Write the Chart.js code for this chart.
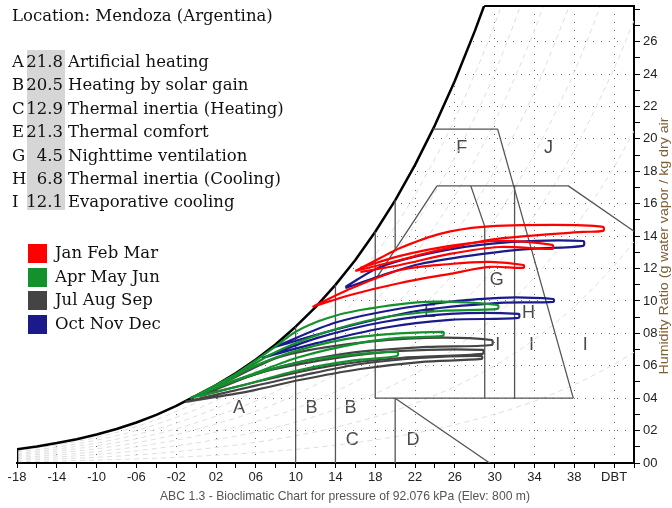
<!DOCTYPE html>
<html>
<head>
<meta charset="utf-8">
<script src="https://cdn.jsdelivr.net/npm/chart.js@4.4.0/dist/chart.umd.min.js"></script>
<style>
html, body { margin: 0; padding: 0; background: #fff; }
#wrap { position: relative; width: 672px; height: 508px; overflow: hidden; }
#chart { position: absolute; left: 0; top: 0; }
.txt { position: absolute; font-family: 'DejaVu Serif', serif; font-size: 16.5px; color: #111; white-space: nowrap; line-height: 20px; }
.pct { text-align: right; width: 37px; }
#shade { position: absolute; left: 27px; top: 50px; width: 38px; height: 160px; background: #d6d6d6; }
.sq { position: absolute; left: 28px; width: 19px; height: 19px; }
</style>
</head>
<body>
<div id="wrap">
  <canvas id="chart" width="672" height="508"></canvas>
  <div id="shade"></div>
  <div class="txt" style="left:12px; top:6px;">Location: Mendoza (Argentina)</div>
  <div id="panel"></div>
</div>
<script>
// Strategy summary (top left)
const strategyCodes = ['A', 'B', 'C', 'E', 'G', 'H', 'I'];
const strategyPct = ['21.8', '20.5', '12.9', '21.3', '4.5', '6.8', '12.1'];
const strategyNames = ['Artificial heating', 'Heating by solar gain', 'Thermal inertia (Heating)',
    'Thermal comfort', 'Nighttime ventilation', 'Thermal inertia (Cooling)', 'Evaporative cooling'];

// Seasons legend
const seasonNames = ['Jan Feb Mar', 'Apr May Jun', 'Jul Aug Sep', 'Oct Nov Dec'];
const seasonColors = ['#ff0000', '#14912c', '#444444', '#1a1a8c'];

// Saturation curve (dry bulb C, humidity ratio g/kg)
const satT = [-18, -18, -16, -14, -12, -10, -8, -6, -4, -2, 0, 2, 4, 6, 8, 10, 12, 14, 16, 18, 20, 22, 24, 26, 28, 29];
const satW = [0, 0.85, 1.02, 1.23, 1.47, 1.76, 2.10, 2.50, 2.97, 3.52, 4.16, 4.81, 5.55, 6.38, 7.33, 8.41, 9.62, 10.99, 12.53, 14.27, 16.21, 18.40, 20.85, 23.59, 26.65, 28.31];

// relative humidity guide curves
const rhT = [-18, -14, -10, -6, -2, 2, 6, 10, 14, 18, 22, 26, 30, 34, 38, 42, 44];
const rh10 = [0.08, 0.12, 0.18, 0.25, 0.35, 0.48, 0.64, 0.84, 1.10, 1.43, 1.84, 2.36, 3.01, 3.82, 4.83, 6.09, 6.83];
const rh20 = [0.17, 0.25, 0.35, 0.50, 0.70, 0.96, 1.28, 1.68, 2.20, 2.85, 3.68, 4.72, 6.01, 7.63, 9.65, 12.17, 13.66];
const rh30 = [0.26, 0.37, 0.53, 0.75, 1.06, 1.44, 1.91, 2.52, 3.30, 4.28, 5.52, 7.08, 9.02, 11.45, 14.48, 18.26, 20.48];
const rh40 = [0.34, 0.49, 0.70, 1.00, 1.41, 1.92, 2.55, 3.36, 4.40, 5.71, 7.36, 9.44, 12.03, 15.27, 19.30, 24.34, 27.31];
const rh50 = [0.43, 0.62, 0.88, 1.25, 1.76, 2.41, 3.19, 4.21, 5.50, 7.14, 9.20, 11.80, 15.04, 19.09, 24.13, 30.43];
const rh60 = [0.51, 0.74, 1.06, 1.50, 2.11, 2.89, 3.83, 5.05, 6.59, 8.56, 11.04, 14.15, 18.04, 22.90, 28.96];
const rh70 = [0.60, 0.86, 1.23, 1.75, 2.46, 3.37, 4.47, 5.89, 7.69, 9.99, 12.88, 16.51, 21.05, 26.72, 33.78];
const rh80 = [0.68, 0.98, 1.41, 2.00, 2.82, 3.85, 5.10, 6.73, 8.79, 11.42, 14.72, 18.87, 24.06, 30.54];
const rh90 = [0.77, 1.11, 1.58, 2.25, 3.17, 4.33, 5.74, 7.57, 9.89, 12.84, 16.56, 21.23, 27.06, 34.35];

// Zone boundaries
const zoneLinesT = [
    [10, 10], [14, 14], [18, 18], [20, 20], [20, 29.5], [18, 37.9], [18, 24.2], [20, 20],
    [24.2, 37.4, 44], [27.6, 29, 29], [32, 32], [23.8, 30.3, 37.9]
];
const zoneLinesW = [
    [0, 8.41], [0, 10.99], [4, 14.27], [0, 4], [4, 0], [4, 4], [11.3, 17.1], [13.1, 16.21],
    [17.1, 17.1, 14.3], [17.1, 14.6, 4], [17.1, 4], [20.6, 20.6, 4]
];
const zoneNames = ['A', 'B', 'B', 'C', 'D', 'E', 'F', 'G', 'H', 'I', 'I', 'I', 'J'];
const zoneNameT = [4.3, 11.6, 15.5, 15.7, 21.8, 23.5, 26.7, 30.2, 33.4, 30.3, 33.7, 39.1, 35.4];
const zoneNameW = [3.4, 3.4, 3.4, 1.42, 1.42, 9.32, 19.44, 11.3, 9.26, 7.28, 7.28, 7.28, 19.44];

// Monthly loops (dry bulb C / humidity ratio g/kg)
const janT = [16.0, 18.5, 20.5, 24.5, 28.8, 35.9, 40.9, 40.9, 38.9, 33.3, 29.5, 24.5, 20.5, 16.0];
const janW = [11.85, 12.65, 13.27, 14.14, 14.57, 14.69, 14.57, 14.32, 14.26, 14.01, 13.77, 13.15, 12.53, 11.85];
const febT = [16.5, 20.5, 25.5, 30.5, 35.8, 35.8, 30.5, 25.5, 20.5, 16.5];
const febW = [12.04, 12.78, 13.40, 13.70, 13.46, 13.21, 13.33, 12.90, 12.22, 11.79];
const marT = [11.7, 15.0, 20.5, 25.5, 29.5, 32.9, 32.9, 29.5, 25.5, 20.5, 15.5, 11.7];
const marW = [9.63, 10.62, 11.91, 12.28, 12.41, 12.22, 12.04, 12.10, 11.67, 11.11, 10.37, 9.63];
const aprT = [0.0, 4.0, 8.0, 10.0, 13.0, 16.5, 23.2, 30.3, 30.3, 24.5, 18.5, 12.5, 7.4, 3.0, 0.0];
const aprW = [4.15, 5.5, 7.2, 8.1, 8.9, 9.44, 9.94, 9.75, 9.51, 9.38, 8.95, 7.96, 6.67, 5.0, 4.15];
const mayT = [0.9, 5.4, 10.4, 16.5, 24.8, 24.8, 20.5, 16.5, 10.4, 5.4, 0.9];
const mayW = [4.44, 5.86, 6.98, 7.78, 8.09, 7.84, 7.72, 7.41, 6.54, 5.43, 4.44];
const junT = [-0.6, 4.4, 10.4, 15.5, 20.2, 20.2, 15.5, 10.4, 4.4, -0.6];
const junW = [4.01, 5.19, 6.23, 6.67, 6.85, 6.60, 6.30, 5.74, 4.75, 4.01];
const julT = [-1.1, 5.4, 10.4, 16.5, 22.5, 28.7, 28.7, 22.5, 16.5, 10.4, 5.4, -1.1];
const julW = [3.77, 4.69, 5.37, 6.11, 6.48, 6.60, 6.42, 6.23, 5.80, 5.12, 4.44, 3.77];
const augT = [0.4, 6.4, 13.5, 20.5, 28.8, 28.8, 20.5, 13.5, 6.4, 0.4];
const augW = [4.14, 5.56, 6.42, 6.91, 6.98, 6.73, 6.48, 5.99, 5.06, 4.14];
const sepT = [1.6, 8.4, 15.5, 23.2, 29.7, 29.7, 23.2, 15.5, 8.4, 1.6];
const sepW = [4.57, 6.54, 7.35, 7.72, 7.59, 7.28, 7.16, 6.79, 5.93, 4.57];
const octT = [6.6, 12.2, 18.8, 25.5, 32.4, 32.4, 25.5, 18.8, 12.2, 6.6];
const octW = [6.48, 7.72, 8.70, 9.20, 9.20, 8.95, 8.83, 8.33, 7.41, 6.48];
const novT = [7.9, 14.2, 22.2, 30.5, 35.9, 35.9, 30.5, 22.2, 14.2, 7.9];
const novW = [7.16, 8.70, 9.69, 10.19, 10.12, 9.94, 9.88, 9.38, 8.27, 7.16];
const decT = [15.0, 18.5, 25.2, 31.8, 38.9, 38.9, 33.6, 28.8, 22.5, 18.5, 15.0];
const decW = [10.86, 12.10, 13.15, 13.64, 13.70, 13.40, 13.21, 12.90, 12.28, 11.54, 10.80];

const monthT = [janT, febT, marT, aprT, mayT, junT, julT, augT, sepT, octT, novT, decT];
const monthW = [janW, febW, marW, aprW, mayW, junW, julW, augW, sepW, octW, novW, decW];

// Build the text panel
const panel = document.getElementById('panel');
strategyCodes.forEach((code, i) => {
    const top = 52 + i * 23.4;
    panel.insertAdjacentHTML('beforeend',
        `<div class="txt" style="left:12px; top:${top}px;">${code}</div>` +
        `<div class="txt pct" style="left:26px; top:${top}px;">${strategyPct[i]}</div>` +
        `<div class="txt" style="left:68px; top:${top}px;">${strategyNames[i]}</div>`);
});
seasonNames.forEach((name, i) => {
    const top = 244 + i * 23.5;
    panel.insertAdjacentHTML('beforeend',
        `<div class="sq" style="top:${top}px; background:${seasonColors[i]};"></div>` +
        `<div class="txt" style="left:55px; top:${top - 1}px;">${name}</div>`);
});

function pts(ts, ws) {
    return ts.map((t, i) => ({ x: t, y: ws[i] }));
}

const datasets = [];
monthT.forEach((ts, i) => {
    datasets.push({
        data: pts(ts, monthW[i]),
        borderColor: seasonColors[Math.floor(i / 3)],
        borderWidth: 2.2,
        tension: 0.3
    });
});
zoneLinesT.forEach((ts, i) => {
    datasets.push({ data: pts(ts, zoneLinesW[i]), borderColor: '#555', borderWidth: 1.3 });
});
datasets.push({
    data: pts(satT, satW),
    borderColor: '#000',
    borderWidth: 2.5,
    fill: 'end',
    backgroundColor: '#fff'
});
datasets.push({
    data: pts([28.95, 44], [28.2, 28.2]),
    borderColor: '#000',
    borderWidth: 2,
    clip: false
});
[rh10, rh20, rh30, rh40, rh50, rh60, rh70, rh80, rh90].forEach(ws => {
    datasets.push({
        data: pts(rhT.slice(0, ws.length), ws),
        borderColor: '#dedede',
        borderWidth: 1,
        borderDash: [5, 4],
        tension: 0.3
    });
});

function pad2(v) {
    const s = String(Math.abs(v)).padStart(2, '0');
    return v < 0 ? '-' + s : s;
}

function fitText(ctx, text, cx, cy, width, angle) {
    const w = ctx.measureText(text).width;
    ctx.save();
    ctx.translate(cx, cy);
    if (angle) ctx.rotate(angle);
    ctx.scale(width / w, 1);
    ctx.fillText(text, 0, 0);
    ctx.restore();
}

// no automatic padding: the plot area must sit exactly inside the frame
function noPad(s) {
    s.paddingTop = 0;
    s.paddingBottom = 0;
    s.paddingLeft = 0;
    s.paddingRight = 0;
}

const chartText = {
    id: 'chartText',
    beforeDatasetsDraw(chart) {
        const { ctx, scales: { x, y } } = chart;
        ctx.save();
        ctx.font = '18px "Liberation Sans", Arial, sans-serif';
        ctx.fillStyle = '#4a4a4a';
        ctx.textAlign = 'center';
        ctx.textBaseline = 'middle';
        zoneNames.forEach((n, i) => {
            ctx.fillText(n, x.getPixelForValue(zoneNameT[i]), y.getPixelForValue(zoneNameW[i]));
        });
        ctx.restore();
    },
    afterDraw(chart) {
        const ctx = chart.ctx;
        ctx.save();
        ctx.textAlign = 'center';
        ctx.textBaseline = 'middle';
        ctx.font = '13px "Liberation Sans Narrow", "Liberation Sans", Arial, sans-serif';
        ctx.fillStyle = '#555';
        fitText(ctx, 'ABC 1.3 - Bioclimatic Chart for pressure of 92.076 kPa (Elev: 800 m)', 345, 496, 370);
        ctx.fillStyle = '#7d6036';
        fitText(ctx, 'Humidity Ratio (g water vapor / kg dry air', 664, 246, 257, -Math.PI / 2);
        ctx.restore();
    }
};

const dotColor = 'rgba(0,0,0,0.6)';
const tickFont = { family: '"Liberation Sans Narrow", "Liberation Sans", Arial, sans-serif', size: 13 };

new Chart(document.getElementById('chart'), {
    type: 'scatter',
    data: { datasets: datasets },
    options: {
        responsive: false,
        animation: false,
        devicePixelRatio: 1,
        events: [],
        showLine: true,
        elements: { point: { radius: 0 }, line: { borderJoinStyle: 'round' } },
        layout: { padding: { left: 17, top: 6, right: 0, bottom: 0 } },
        plugins: { legend: { display: false }, tooltip: { enabled: false } },
        scales: {
            x: {
                type: 'linear',
                min: -18,
                max: 44,
                afterFit(s) { s.height = 45; noPad(s); },
                ticks: {
                    stepSize: 2,
                    autoSkip: false,
                    maxRotation: 0,
                    padding: 2,
                    color: '#222',
                    font: tickFont,
                    callback(v) {
                        if (v === 42) return 'DBT';
                        if (v > 42 || (v + 18) % 4 !== 0) return '';
                        return pad2(v);
                    }
                },
                grid: {
                    color: c => (c.tick && (c.tick.value + 18) % 4 === 0 && c.tick.value <= 42) ? dotColor : 'rgba(0,0,0,0)',
                    tickColor: '#000',
                    tickLength: 5,
                    lineWidth: 1
                },
                border: { display: true, color: '#000', width: 2, dash: [1, 7] }
            },
            y: {
                type: 'linear',
                position: 'right',
                min: 0,
                max: 28.2,
                afterFit(s) { s.width = 38; noPad(s); },
                ticks: {
                    stepSize: 1,
                    autoSkip: false,
                    includeBounds: false,
                    padding: 3,
                    color: '#222',
                    font: tickFont,
                    callback(v) {
                        return (v % 2 === 0 && v <= 26) ? pad2(v) : '';
                    }
                },
                grid: {
                    color: c => (c.tick && c.tick.value % 2 === 0 && c.tick.value > 0 && c.tick.value <= 26) ? dotColor : 'rgba(0,0,0,0)',
                    tickColor: '#000',
                    tickLength: 6,
                    lineWidth: 1
                },
                border: { display: true, color: '#000', width: 2, dash: [1, 7] }
            }
        }
    },
    plugins: [chartText]
});
</script>
</body>
</html>
